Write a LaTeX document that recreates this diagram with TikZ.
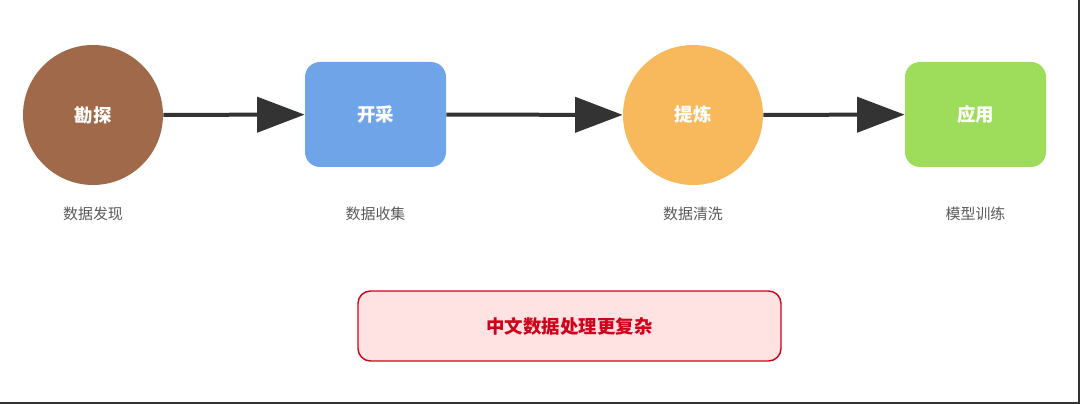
\documentclass[tikz,border=0pt]{standalone}
\usepackage{fontspec}
\setmainfont{Noto Sans CJK SC}
\usetikzlibrary{arrows.meta}
\definecolor{cbrown}{HTML}{A0694A}
\definecolor{cblue}{HTML}{6FA5E8}
\definecolor{corange}{HTML}{F8B95C}
\definecolor{cgreen}{HTML}{9EDC5C}
\definecolor{cred}{HTML}{D0021B}
\definecolor{cpink}{HTML}{FFE3E3}
\begin{document}
\begin{tikzpicture}[x=0.02cm,y=-0.02cm,
  circ/.style={circle,minimum size=140*0.02cm,inner sep=0,text=white,font=\fontsize{10.5}{12}\selectfont\bfseries},
  rbox/.style={rounded corners=0.3cm,minimum width=141*0.02cm,minimum height=105*0.02cm,inner sep=0,text=white,font=\fontsize{10.5}{12}\selectfont\bfseries},
  lab/.style={text=black!65,font=\fontsize{8.5}{10}\selectfont},
  flow/.style={line width=0.08cm,draw=black!80,-{Triangle[length=0.95cm,width=0.7cm]}}]
\useasboundingbox (0,0) rectangle (1080,404);
\draw[black!80,line width=0.6pt] (0,403) -- (1079,403) -- (1079,0);
\node[circ,fill=cbrown] (a) at (93,115) {勘探};
\node[rbox,fill=cblue] (b) at (375.5,114.5) {开采};
\node[circ,fill=corange] (c) at (693,115) {提炼};
\node[rbox,fill=cgreen] (d) at (975.5,114.5) {应用};
\draw[flow] (a) -- (b);
\draw[flow] (b) -- (c);
\draw[flow] (c) -- (d);
\node[lab] (la) at (93,214) {数据发现};
\node[lab] (lb) at (375.5,214) {数据收集};
\node[lab] (lc) at (693,214) {数据清洗};
\node[lab] (ld) at (975.5,214) {模型训练};
\node[draw=cred,fill=cpink,line width=0.8pt,rounded corners=0.25cm,minimum width=423*0.02cm,minimum height=70*0.02cm,text=cred,font=\fontsize{10.5}{12}\selectfont\bfseries] (e) at (569.5,326) {中文数据处理更复杂};
\end{tikzpicture}
\end{document}
